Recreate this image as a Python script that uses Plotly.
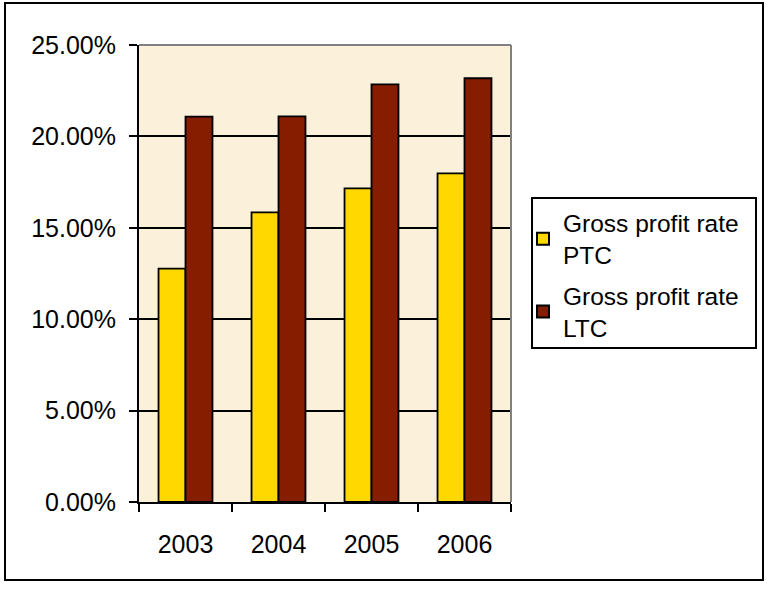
import plotly.graph_objects as go

years = ["2003", "2004", "2005", "2006"]
ptc_rate = [12.77, 15.84, 17.16, 17.98]
ltc_rate = [21.08, 21.10, 22.85, 23.18]
y_ticks = [0, 5, 10, 15, 20, 25]
y_tick_text = [f"{v:.2f}%" for v in y_ticks]

FONT = "Arial, Liberation Sans, sans-serif"

fig = go.Figure()
fig.add_trace(go.Bar(
    x=years, y=ptc_rate, name="Gross profit rate<br>PTC", legendgroup="ptc",
    marker=dict(color="#FFD800", line=dict(color="black", width=1.8)),
))
fig.add_trace(go.Bar(
    x=years, y=ltc_rate, name="Gross profit rate<br>LTC", legendgroup="ltc",
    marker=dict(color="#861C00", line=dict(color="black", width=1.8)),
))

# outer frame around the whole chart
fig.add_shape(type="rect", xref="paper", yref="paper",
              x0=-0.3602, x1=1.6774, y0=-0.1707, y1=1.0919,
              line=dict(color="black", width=2), layer="above")
# frame of the legend box
fig.add_shape(type="rect", xref="paper", yref="paper",
              x0=1.0565, x1=1.6586, y0=0.337, y1=0.6652,
              line=dict(color="black", width=2), layer="above")
# grey top and right edges of the plot area
fig.add_shape(type="line", xref="paper", yref="paper", x0=0, x1=1, y0=1, y1=1,
              line=dict(color="#808080", width=2), layer="above")
fig.add_shape(type="line", xref="paper", yref="paper", x0=1, x1=1, y0=0, y1=1,
              line=dict(color="#808080", width=2), layer="above")

fig.update_layout(
    width=767, height=592,
    margin=dict(l=139, r=256, t=45, b=90),
    paper_bgcolor="white",
    plot_bgcolor="#FBF0D9",
    barmode="group",
    bargap=0.42,
    bargroupgap=0,
    font=dict(family=FONT, size=25, color="black"),
    legend=dict(
        x=1.0323, y=0.660, xanchor="left", yanchor="top",
        borderwidth=0, bgcolor="rgba(0,0,0,0)",
        font=dict(family=FONT, size=24.5, color="black"),
        tracegroupgap=6, itemsizing="constant",
    ),
    showlegend=True,
)
fig.update_xaxes(
    type="category", showline=True, linecolor="black", linewidth=2,
    ticks="outside", tickson="boundaries", ticklen=8, tickwidth=2,
    tickcolor="black", ticklabelstandoff=19,
    tickfont=dict(family=FONT, size=25, color="black"),
    showgrid=False,
)
fig.update_yaxes(
    range=[0, 25], tickvals=y_ticks, ticktext=y_tick_text,
    showline=True, linecolor="black", linewidth=2,
    ticks="outside", ticklen=8, tickwidth=2, tickcolor="black",
    showgrid=True, gridcolor="black", gridwidth=2,
    zeroline=False, ticklabelstandoff=8,
    tickfont=dict(family=FONT, size=25, color="black"),
)

fig.write_html("out.html")
